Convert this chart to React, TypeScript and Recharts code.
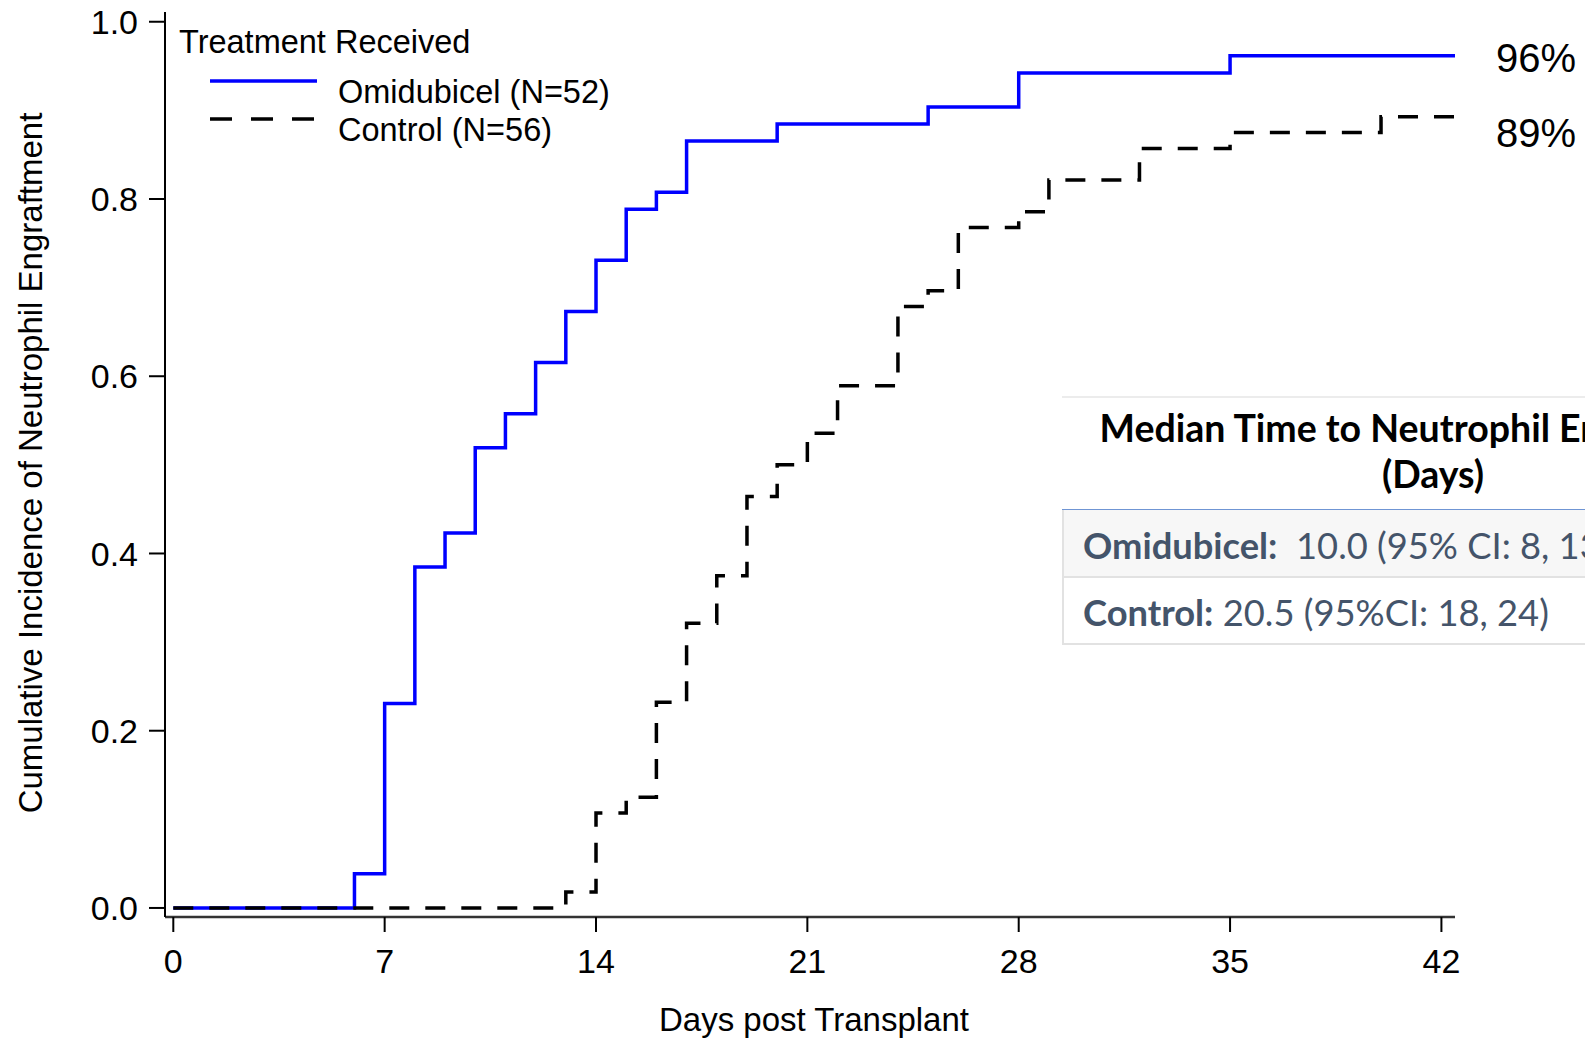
import React from 'react';
import { LineChart, Line, XAxis, YAxis, Legend, Label, LabelList } from 'recharts';

// ---- Data ----
const omiDays = [0, 6, 7, 8, 9, 10, 11, 12, 13, 14, 15, 16, 17, 20, 25, 28, 35, 42.45];
const omiValues = [0, 0.0385, 0.2308, 0.3846, 0.4231, 0.5192, 0.5577, 0.6154, 0.6731, 0.7308, 0.7885, 0.8077, 0.8654, 0.8846, 0.9038, 0.9423, 0.9615, 0.9615];
const ctlDays = [0, 13, 14, 15, 16, 17, 18, 19, 20, 21, 22, 24, 25, 26, 28, 29, 32, 35, 40, 42.45];
const ctlValues = [0, 0.0179, 0.1071, 0.125, 0.2321, 0.3214, 0.375, 0.4643, 0.5, 0.5357, 0.5893, 0.6786, 0.6964, 0.7679, 0.7857, 0.8214, 0.8571, 0.875, 0.8929, 0.8929];
const seriesNames = ['Omidubicel (N=52)', 'Control (N=56)'];
const finalLabels = ['96%', '89%'];
const xTicks = [0, 7, 14, 21, 28, 35, 42];
const yTicks = [0, 0.2, 0.4, 0.6, 0.8, 1.0];
const legendTitle = 'Treatment Received';
const xTitle = 'Days post Transplant';
const yTitle = 'Cumulative Incidence of Neutrophil Engraftment';
const tableTitle = ['Median Time to Neutrophil Engraftment', '(Days)'];
const tableLabels = ['Omidubicel:', 'Control:'];
const tableValues = ['  10.0 (95% CI: 8, 13)', ' 20.5 (95%CI: 18, 24)'];

const omiData = omiDays.map((d, i) => ({ day: d, value: omiValues[i] }));
const ctlData = ctlDays.map((d, i) => ({ day: d, value: ctlValues[i] }));

const SANS = '"Liberation Sans", Arial, Helvetica, sans-serif';
const TABLE_FONT = 'Lato, "Open Sans", sans-serif';

const XTitle = (props: any) => {
  const vb = props.viewBox || { x: 165, y: 917, width: 1290, height: 60 };
  return (
    <text x={vb.x + vb.width / 2 + 4} y={vb.y + 102} textAnchor="middle" dominantBaseline="central"
      fontFamily={SANS} fontSize={33} fill="#000">{xTitle}</text>
  );
};

const YTitle = (props: any) => {
  const vb = props.viewBox || { x: 0, y: 12, width: 165, height: 905 };
  const cx = vb.x + 30;
  const cy = vb.y + vb.height / 2 - 1.5;
  return (
    <text x={cx} y={cy} transform={`rotate(-90 ${cx} ${cy})`} textAnchor="middle" dominantBaseline="central"
      fontFamily={SANS} fontSize={33} fill="#000">{yTitle}</text>
  );
};

const LegendContent = (props: any) => {
  const payload = props.payload || [];
  return (
    <svg width={700} height={150} style={{ display: 'block' }}>
      <text x={179} y={42} dominantBaseline="central" fontFamily={SANS} fontSize={32.5} fill="#000">{legendTitle}</text>
      {seriesNames.map((name, i) => {
        const entry = payload.find((p: any) => p.value === name) || {};
        const y = 81 + i * 38;
        const dashed = entry.payload && entry.payload.strokeDasharray;
        return (
          <g key={i}>
            <line x1={210} x2={317} y1={y} y2={y} stroke={entry.color} strokeWidth={3.5}
              strokeDasharray={dashed ? '22 19' : undefined} />
            <text x={338} y={y + 11} dominantBaseline="central" fontFamily={SANS} fontSize={32.5} fill="#000">
              {name}
            </text>
          </g>
        );
      })}
    </svg>
  );
};

const makeEndLabel = (seriesIndex: number, lastIndex: number, dy: number) => (props: any) => {
  if (props.index !== lastIndex) return null;
  return (
    <text x={props.x + 41} y={props.y + dy} dominantBaseline="central" fontFamily={SANS} fontSize={40} fill="#000">
      {finalLabels[seriesIndex]}
    </text>
  );
};

const MedianTable = () => (
  <div style={{ position: 'absolute', left: 1062, top: 396, width: 742, fontFamily: TABLE_FONT }}>
    <div style={{ borderTop: '2px solid #ececec', height: 114, boxSizing: 'border-box', paddingTop: 7, background: '#fff', borderBottom: '1.5px solid #6f95d4' }}>
      {tableTitle.map((t, i) => (
        <div key={i} style={{ textAlign: 'center', fontWeight: 700, fontSize: 37.5, lineHeight: '46px', color: '#000', whiteSpace: 'nowrap' }}>{t}</div>
      ))}
    </div>
    {tableLabels.map((lab, i) => (
      <div key={i} style={{
        height: i === 0 ? 68 : 67, boxSizing: 'border-box', display: 'flex', alignItems: 'center',
        paddingLeft: 19, paddingTop: 3, background: i === 0 ? '#f7f7f7' : '#ffffff',
        borderLeft: '2px solid #e2e2e2', borderBottom: '2px solid #e2e2e2',
        color: '#44546a', fontSize: 36.3, whiteSpace: 'pre'
      }}>
        <span style={{ fontWeight: 700 }}>{lab}</span>
        <span>{tableValues[i]}</span>
      </div>
    ))}
  </div>
);

export default function App() {
  return (
    <div style={{ position: 'absolute', left: 0, top: 0, width: 1585, height: 1038, overflow: 'hidden', background: '#fff' }}>
      <LineChart width={1585} height={1038} margin={{ top: 12, right: 130, bottom: 61, left: 0 }}>
        <XAxis dataKey="day" type="number" domain={[-0.275, 42.45]} allowDataOverflow ticks={xTicks} interval={0}
          height={60} tickSize={15} tickMargin={17}
          axisLine={{ stroke: '#333', strokeWidth: 2.5 }} tickLine={{ stroke: '#000', strokeWidth: 2 }}
          tick={{ fill: '#000', fontSize: 34, fontFamily: SANS }}>
          <Label content={XTitle} />
        </XAxis>
        <YAxis type="number" domain={[-0.0102, 1.011]} allowDataOverflow ticks={yTicks} interval={0}
          width={165} tickSize={16} tickMargin={11} tickFormatter={(v: number) => v.toFixed(1)}
          axisLine={{ stroke: '#000', strokeWidth: 2 }} tickLine={{ stroke: '#000', strokeWidth: 2 }}
          tick={{ fill: '#000', fontSize: 34, fontFamily: SANS }}>
          <Label content={YTitle} />
        </YAxis>
        <Line data={omiData} dataKey="value" name={seriesNames[0]} type="stepAfter" stroke="#0000ff" strokeWidth={3.5}
          dot={false} activeDot={false} isAnimationActive={false}>
          <LabelList dataKey="value" content={makeEndLabel(0, omiData.length - 1, 2)} />
        </Line>
        <Line data={ctlData} dataKey="value" name={seriesNames[1]} type="stepAfter" stroke="#000000" strokeWidth={3.5}
          strokeDasharray="20 16" dot={false} activeDot={false} isAnimationActive={false}>
          <LabelList dataKey="value" content={makeEndLabel(1, ctlData.length - 1, 16)} />
        </Line>
        <Legend layout="horizontal" verticalAlign="middle" align="center" content={LegendContent}
          wrapperStyle={{ position: 'absolute', left: 0, top: 0, width: 700, height: 150 }} />
      </LineChart>
      <MedianTable />
    </div>
  );
}
